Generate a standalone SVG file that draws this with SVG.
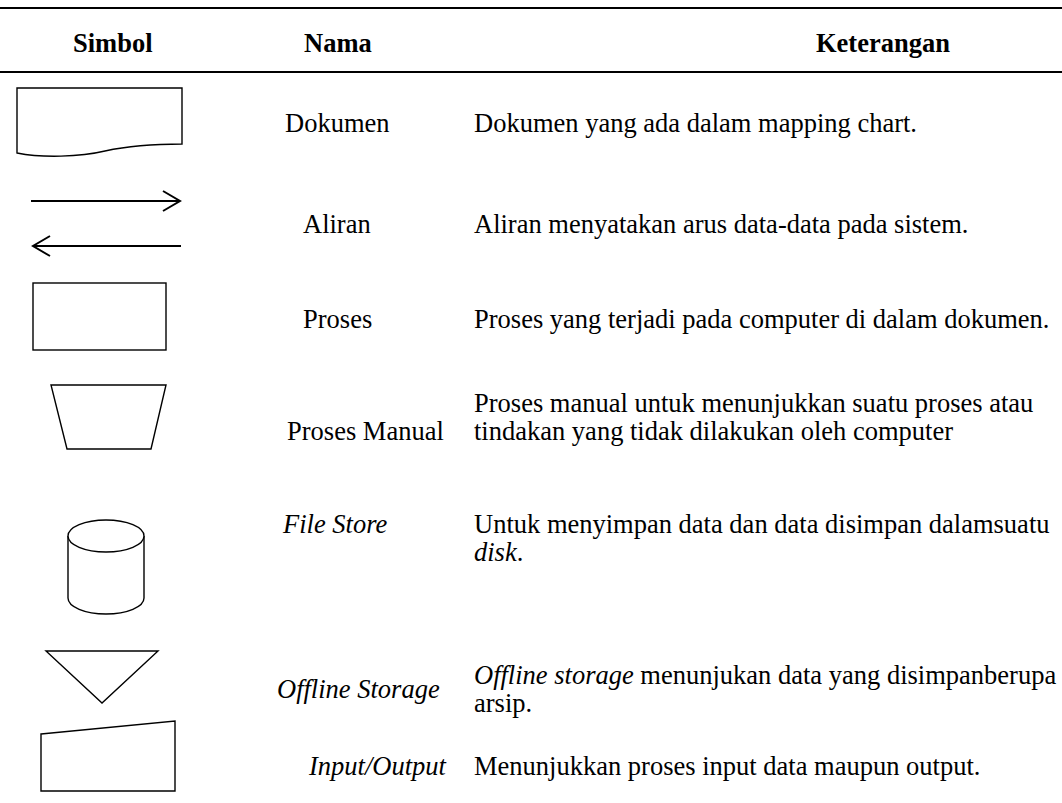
<svg xmlns="http://www.w3.org/2000/svg" width="1062" height="803" viewBox="0 0 1062 803">
<style>
text{font-family:"Liberation Serif","Times New Roman",serif;font-size:26.5px;fill:#000}
.b{font-weight:bold}
.i{font-style:italic}
.s{fill:#fff;stroke:#000;stroke-width:1.4}
.a{fill:none;stroke:#000;stroke-width:2}
.rule{stroke:#000;stroke-width:2.2}
</style>
<rect width="1062" height="803" fill="#fff"/>
<g id="table-rules">
<line class="rule" x1="0" y1="8" x2="1062" y2="8"/>
<line class="rule" x1="0" y1="72" x2="1062" y2="72"/>
</g>
<g id="header">
<text class="b" x="73" y="52">Simbol</text>
<text class="b" x="304" y="52">Nama</text>
<text class="b" x="816" y="52">Keterangan</text>
</g>
<g id="row-dokumen">
<path class="s" d="M17,88 H182 V144 C150,144 128,146 105,151 C80,157 42,158 17,153 Z"/>
<text x="285" y="132">Dokumen</text>
<text x="474" y="132">Dokumen yang ada dalam mapping chart.</text>
</g>
<g id="row-aliran">
<g id="connectors">
<path class="a" d="M31,201 H180 M163,191 L180,201 L163,211"/>
<path class="a" d="M181,246 H33 M50,236 L33,246 L50,256"/>
</g>
<text x="303" y="233">Aliran</text>
<text x="474" y="233">Aliran menyatakan arus data-data pada sistem.</text>
</g>
<g id="row-proses">
<rect class="s" x="33" y="283" width="133" height="67"/>
<text x="303" y="328">Proses</text>
<text x="474" y="328">Proses yang terjadi pada computer di dalam dokumen.</text>
</g>
<g id="row-manual">
<path class="s" d="M51,385 H166 L151,449 H67 Z"/>
<text x="287" y="440">Proses Manual</text>
<text x="474" y="412">Proses manual untuk menunjukkan suatu proses atau</text>
<text x="474" y="440">tindakan yang tidak dilakukan oleh computer</text>
</g>
<g id="row-filestore">
<path class="s" d="M68,536 V598 A38,16 0 0 0 144,598 V536"/>
<ellipse class="s" cx="106" cy="536" rx="38" ry="16"/>
<text class="i" x="283" y="533">File Store</text>
<text x="474" y="533">Untuk menyimpan data dan data disimpan dalamsuatu</text>
<text class="i" x="474" y="561">disk<tspan font-style="normal">.</tspan></text>
</g>
<g id="row-offline">
<path class="s" d="M46,651 H158 L102,703 Z"/>
<text class="i" x="277" y="698">Offline Storage</text>
<text x="474" y="684"><tspan font-style="italic">Offline storage</tspan> menunjukan data yang disimpanberupa</text>
<text x="474" y="712">arsip.</text>
</g>
<g id="row-io">
<path class="s" d="M41,734 L175,721 V791 H41 Z"/>
<text class="i" x="309" y="775">Input/Output</text>
<text x="474" y="775">Menunjukkan proses input data maupun output.</text>
</g>
</svg>
